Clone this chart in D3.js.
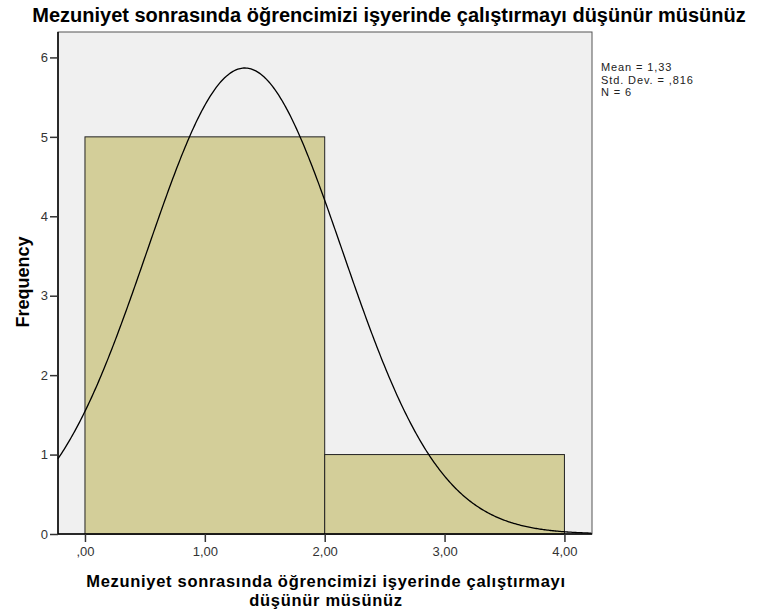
<!DOCTYPE html>
<html>
<head>
<meta charset="utf-8">
<script src="https://cdn.jsdelivr.net/npm/d3@7/dist/d3.min.js"></script>
<style>
  body { margin: 0; background: #fff; }
  text { font-family: "Liberation Sans", Arial, sans-serif; }
</style>
</head>
<body>
<div class="chart"></div>
<script>
// histogram bins and counts
const binStarts = [0, 2];
const binEnds = [2, 4];
const counts = [5, 1];
const xTicks = [0, 1, 2, 3, 4];
const yTicks = [0, 1, 2, 3, 4, 5, 6];
const statsLines = ["Mean = 1,33", "Std. Dev. = ,816", "N = 6"];
const mean = 1.3333, sd = 0.816, n = 6, binWidth = 2;

const width = 758, height = 614;
const plotLeft = 58, plotRight = 592, plotTop = 32, plotBottom = 534;

const svg = d3.select(".chart").append("svg")
  .attr("width", width)
  .attr("height", height);

const x = d3.scaleLinear().domain([-0.225, 4.23]).range([plotLeft, plotRight]);
const y = d3.scaleLinear().domain([0, 6.32]).range([plotBottom, plotTop]);

// plot background
svg.append("rect")
  .attr("x", plotLeft).attr("y", plotTop)
  .attr("width", plotRight - plotLeft).attr("height", plotBottom - plotTop)
  .attr("fill", "#f0f0f0")
  .attr("stroke", "#555")
  .attr("stroke-width", 1);

// bars
svg.selectAll(".bar")
  .data(counts)
  .enter().append("rect")
  .attr("class", "bar")
  .attr("x", (d, i) => x(binStarts[i]))
  .attr("y", d => y(d))
  .attr("width", (d, i) => x(binEnds[i]) - x(binStarts[i]))
  .attr("height", d => y(0) - y(d))
  .attr("fill", "#d3ce99")
  .attr("stroke", "#222")
  .attr("stroke-width", 1);

// normal curve scaled to counts
const scale = n * binWidth / (sd * Math.sqrt(2 * Math.PI));
const curve = d3.range(-0.225, 4.23, 0.01).map(v => [v, scale * Math.exp(-0.5 * Math.pow((v - mean) / sd, 2))]);
svg.append("path")
  .datum(curve)
  .attr("fill", "none")
  .attr("stroke", "#000")
  .attr("stroke-width", 1.3)
  .attr("d", d3.line().x(d => x(d[0])).y(d => y(d[1])));

// axes
const fmt = d => d3.format(".2f")(d).replace(/^0/, "").replace(".", ",");
const xAxis = svg.append("g")
  .attr("transform", `translate(0,${plotBottom})`)
  .call(d3.axisBottom(x).tickValues(xTicks).tickSize(8).tickPadding(5).tickFormat(fmt));
const yAxis = svg.append("g")
  .attr("transform", `translate(${plotLeft},0)`)
  .call(d3.axisLeft(y).tickValues(yTicks).tickSize(8).tickPadding(2).tickFormat(d3.format("d")));

[xAxis, yAxis].forEach(g => {
  g.select(".domain").attr("stroke", "#000").attr("stroke-width", 1.5);
  g.selectAll(".tick line").attr("stroke", "#333").attr("stroke-width", 1.5);
  g.selectAll(".tick text").attr("fill", "#333").style("font-size", "13px");
});
xAxis.select(".domain").attr("d", `M${plotLeft},0H${plotRight}`);
yAxis.select(".domain").attr("d", `M0,${plotBottom}V${plotTop}`);

// title
svg.append("text")
  .attr("x", 389).attr("y", 22)
  .attr("text-anchor", "middle")
  .style("font-size", "20px").style("font-weight", "bold")
  .text("Mezuniyet sonrasında öğrencimizi işyerinde çalıştırmayı düşünür müsünüz");

// axis titles
svg.append("text")
  .attr("transform", "translate(29,282) rotate(-90)")
  .attr("text-anchor", "middle")
  .style("font-size", "18px").style("font-weight", "bold")
  .text("Frequency");

const xTitle = ["Mezuniyet sonrasında öğrencimizi işyerinde çalıştırmayı", "düşünür müsünüz"];
svg.selectAll(".xtitle")
  .data(xTitle)
  .enter().append("text")
  .attr("class", "xtitle")
  .attr("x", 326)
  .attr("y", (d, i) => 587 + i * 19)
  .attr("text-anchor", "middle")
  .style("font-size", "16.5px").style("font-weight", "bold")
  .style("letter-spacing", "0.7px")
  .text(d => d);

// stats legend
svg.selectAll(".stat")
  .data(statsLines)
  .enter().append("text")
  .attr("class", "stat")
  .attr("x", 601)
  .attr("y", (d, i) => 71 + i * 12.5)
  .style("font-size", "11px")
  .style("letter-spacing", "0.9px")
  .attr("fill", "#222")
  .text(d => d);
</script>
</body>
</html>
